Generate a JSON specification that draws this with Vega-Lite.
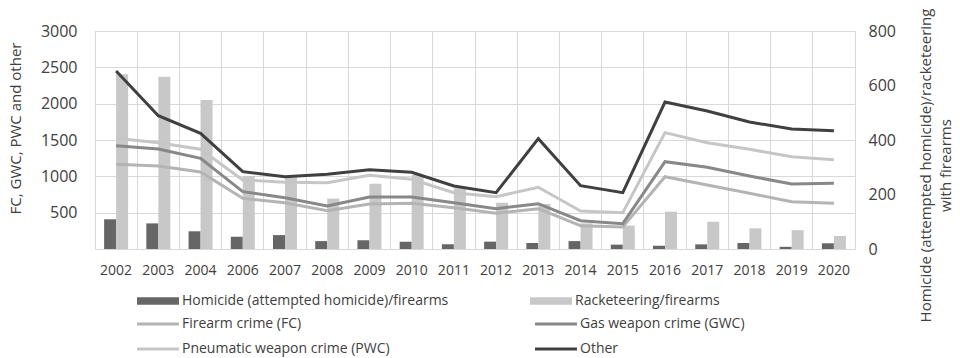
{
  "$schema": "https://vega.github.io/schema/vega-lite/v6.json",
  "width": 760,
  "height": 218,
  "autosize": {"type": "none"},
  "padding": {"left": 95, "top": 31, "right": 105, "bottom": 109},
  "background": "white",
  "config": {
    "view": {"stroke": "#d9d9d9", "strokeWidth": 1},
    "font": "Open Sans",
    "axis": {"labelFont": "Open Sans", "labelColor": "#404040", "titleFont": "Open Sans", "titleColor": "#404040", "titleFontWeight": "normal", "gridColor": "#d9d9d9", "domainColor": "#d9d9d9", "ticks": false},
    "legend": {"labelFont": "Open Sans", "labelColor": "#404040", "labelFontSize": 14, "labelLimit": 500, "padding": 0, "title": null}
  },
  "datasets": {
    "bars": [
      {"year": "2002", "series": "Homicide (attempted homicide)/firearms", "value": 109},
      {"year": "2003", "series": "Homicide (attempted homicide)/firearms", "value": 94},
      {"year": "2004", "series": "Homicide (attempted homicide)/firearms", "value": 65},
      {"year": "2006", "series": "Homicide (attempted homicide)/firearms", "value": 45},
      {"year": "2007", "series": "Homicide (attempted homicide)/firearms", "value": 51},
      {"year": "2008", "series": "Homicide (attempted homicide)/firearms", "value": 29},
      {"year": "2009", "series": "Homicide (attempted homicide)/firearms", "value": 32},
      {"year": "2010", "series": "Homicide (attempted homicide)/firearms", "value": 27},
      {"year": "2011", "series": "Homicide (attempted homicide)/firearms", "value": 17},
      {"year": "2012", "series": "Homicide (attempted homicide)/firearms", "value": 27},
      {"year": "2013", "series": "Homicide (attempted homicide)/firearms", "value": 22},
      {"year": "2014", "series": "Homicide (attempted homicide)/firearms", "value": 29},
      {"year": "2015", "series": "Homicide (attempted homicide)/firearms", "value": 16},
      {"year": "2016", "series": "Homicide (attempted homicide)/firearms", "value": 12},
      {"year": "2017", "series": "Homicide (attempted homicide)/firearms", "value": 17},
      {"year": "2018", "series": "Homicide (attempted homicide)/firearms", "value": 22},
      {"year": "2019", "series": "Homicide (attempted homicide)/firearms", "value": 8},
      {"year": "2020", "series": "Homicide (attempted homicide)/firearms", "value": 21},
      {"year": "2002", "series": "Racketeering/firearms", "value": 641},
      {"year": "2003", "series": "Racketeering/firearms", "value": 632},
      {"year": "2004", "series": "Racketeering/firearms", "value": 547},
      {"year": "2006", "series": "Racketeering/firearms", "value": 268},
      {"year": "2007", "series": "Racketeering/firearms", "value": 263},
      {"year": "2008", "series": "Racketeering/firearms", "value": 185},
      {"year": "2009", "series": "Racketeering/firearms", "value": 239},
      {"year": "2010", "series": "Racketeering/firearms", "value": 272},
      {"year": "2011", "series": "Racketeering/firearms", "value": 223},
      {"year": "2012", "series": "Racketeering/firearms", "value": 170},
      {"year": "2013", "series": "Racketeering/firearms", "value": 165},
      {"year": "2014", "series": "Racketeering/firearms", "value": 94},
      {"year": "2015", "series": "Racketeering/firearms", "value": 86},
      {"year": "2016", "series": "Racketeering/firearms", "value": 137},
      {"year": "2017", "series": "Racketeering/firearms", "value": 100},
      {"year": "2018", "series": "Racketeering/firearms", "value": 76},
      {"year": "2019", "series": "Racketeering/firearms", "value": 69},
      {"year": "2020", "series": "Racketeering/firearms", "value": 48}
    ],
    "lines": [
      {"year": "2002", "series": "Firearm crime (FC)", "value": 1165},
      {"year": "2003", "series": "Firearm crime (FC)", "value": 1142},
      {"year": "2004", "series": "Firearm crime (FC)", "value": 1060},
      {"year": "2006", "series": "Firearm crime (FC)", "value": 697},
      {"year": "2007", "series": "Firearm crime (FC)", "value": 637},
      {"year": "2008", "series": "Firearm crime (FC)", "value": 527},
      {"year": "2009", "series": "Firearm crime (FC)", "value": 619},
      {"year": "2010", "series": "Firearm crime (FC)", "value": 628},
      {"year": "2011", "series": "Firearm crime (FC)", "value": 569},
      {"year": "2012", "series": "Firearm crime (FC)", "value": 491},
      {"year": "2013", "series": "Firearm crime (FC)", "value": 555},
      {"year": "2014", "series": "Firearm crime (FC)", "value": 321},
      {"year": "2015", "series": "Firearm crime (FC)", "value": 303},
      {"year": "2016", "series": "Firearm crime (FC)", "value": 995},
      {"year": "2017", "series": "Firearm crime (FC)", "value": 881},
      {"year": "2018", "series": "Firearm crime (FC)", "value": 766},
      {"year": "2019", "series": "Firearm crime (FC)", "value": 651},
      {"year": "2020", "series": "Firearm crime (FC)", "value": 628},
      {"year": "2002", "series": "Gas weapon crime (GWC)", "value": 1422},
      {"year": "2003", "series": "Gas weapon crime (GWC)", "value": 1376},
      {"year": "2004", "series": "Gas weapon crime (GWC)", "value": 1248},
      {"year": "2006", "series": "Gas weapon crime (GWC)", "value": 789},
      {"year": "2007", "series": "Gas weapon crime (GWC)", "value": 706},
      {"year": "2008", "series": "Gas weapon crime (GWC)", "value": 592},
      {"year": "2009", "series": "Gas weapon crime (GWC)", "value": 716},
      {"year": "2010", "series": "Gas weapon crime (GWC)", "value": 716},
      {"year": "2011", "series": "Gas weapon crime (GWC)", "value": 637},
      {"year": "2012", "series": "Gas weapon crime (GWC)", "value": 555},
      {"year": "2013", "series": "Gas weapon crime (GWC)", "value": 623},
      {"year": "2014", "series": "Gas weapon crime (GWC)", "value": 390},
      {"year": "2015", "series": "Gas weapon crime (GWC)", "value": 348},
      {"year": "2016", "series": "Gas weapon crime (GWC)", "value": 1201},
      {"year": "2017", "series": "Gas weapon crime (GWC)", "value": 1124},
      {"year": "2018", "series": "Gas weapon crime (GWC)", "value": 1005},
      {"year": "2019", "series": "Gas weapon crime (GWC)", "value": 894},
      {"year": "2020", "series": "Gas weapon crime (GWC)", "value": 904},
      {"year": "2002", "series": "Pneumatic weapon crime (PWC)", "value": 1523},
      {"year": "2003", "series": "Pneumatic weapon crime (PWC)", "value": 1463},
      {"year": "2004", "series": "Pneumatic weapon crime (PWC)", "value": 1372},
      {"year": "2006", "series": "Pneumatic weapon crime (PWC)", "value": 950},
      {"year": "2007", "series": "Pneumatic weapon crime (PWC)", "value": 917},
      {"year": "2008", "series": "Pneumatic weapon crime (PWC)", "value": 913},
      {"year": "2009", "series": "Pneumatic weapon crime (PWC)", "value": 1014},
      {"year": "2010", "series": "Pneumatic weapon crime (PWC)", "value": 959},
      {"year": "2011", "series": "Pneumatic weapon crime (PWC)", "value": 775},
      {"year": "2012", "series": "Pneumatic weapon crime (PWC)", "value": 720},
      {"year": "2013", "series": "Pneumatic weapon crime (PWC)", "value": 849},
      {"year": "2014", "series": "Pneumatic weapon crime (PWC)", "value": 523},
      {"year": "2015", "series": "Pneumatic weapon crime (PWC)", "value": 500},
      {"year": "2016", "series": "Pneumatic weapon crime (PWC)", "value": 1601},
      {"year": "2017", "series": "Pneumatic weapon crime (PWC)", "value": 1463},
      {"year": "2018", "series": "Pneumatic weapon crime (PWC)", "value": 1372},
      {"year": "2019", "series": "Pneumatic weapon crime (PWC)", "value": 1270},
      {"year": "2020", "series": "Pneumatic weapon crime (PWC)", "value": 1229},
      {"year": "2002", "series": "Other", "value": 2450},
      {"year": "2003", "series": "Other", "value": 1834},
      {"year": "2004", "series": "Other", "value": 1592},
      {"year": "2006", "series": "Other", "value": 1064},
      {"year": "2007", "series": "Other", "value": 995},
      {"year": "2008", "series": "Other", "value": 1028},
      {"year": "2009", "series": "Other", "value": 1092},
      {"year": "2010", "series": "Other", "value": 1055},
      {"year": "2011", "series": "Other", "value": 867},
      {"year": "2012", "series": "Other", "value": 775},
      {"year": "2013", "series": "Other", "value": 1518},
      {"year": "2014", "series": "Other", "value": 871},
      {"year": "2015", "series": "Other", "value": 775},
      {"year": "2016", "series": "Other", "value": 2023},
      {"year": "2017", "series": "Other", "value": 1899},
      {"year": "2018", "series": "Other", "value": 1748},
      {"year": "2019", "series": "Other", "value": 1651},
      {"year": "2020", "series": "Other", "value": 1628}
    ]
  },
  "layer": [
    {
      "data": {"name": "bars"},
      "mark": {"type": "bar"},
      "encoding": {
        "x": {"field": "year", "type": "ordinal", "scale": {"type": "band", "paddingInner": 0, "paddingOuter": 0},
          "axis": {"title": null, "labelAngle": 0, "grid": true, "bandPosition": 0, "labelFontSize": 14, "labelPadding": 14, "domain": true}},
        "xOffset": {"field": "series", "type": "nominal", "sort": ["Homicide (attempted homicide)/firearms", "Racketeering/firearms"], "scale": {"paddingInner": 0, "paddingOuter": 0.76}},
        "y": {"field": "value", "type": "quantitative", "scale": {"domain": [0, 800]},
          "axis": {"orient": "right", "values": [0, 200, 400, 600, 800], "format": "d", "grid": false, "domain": false, "labelFontSize": 16, "labelPadding": 13,
            "title": ["Homicide (attempted homicide)/racketeering", "with firearms"], "titleAngle": 270, "titleFontSize": 15, "titleLineHeight": 20, "titleBaseline": "middle", "titleX": 70, "titleY": 134}},
        "color": {"field": "series", "type": "nominal",
          "scale": {"domain": ["Homicide (attempted homicide)/firearms", "Racketeering/firearms"], "range": ["#666666", "#c8c8c8"]},
          "legend": {"orient": "none", "legendX": 56, "legendY": 263, "columns": 2, "columnPadding": 81, "symbolType": "M-4,-0.7H4V0.7H-4Z", "symbolSize": 110, "symbolStrokeWidth": 0, "symbolOpacity": 1, "labelOffset": 17}}
      }
    },
    {
      "data": {"name": "lines"},
      "mark": {"type": "line", "strokeWidth": 3},
      "encoding": {
        "x": {"field": "year", "type": "ordinal", "scale": {"type": "band", "paddingInner": 0, "paddingOuter": 0}},
        "y": {"field": "value", "type": "quantitative", "scale": {"domain": [0, 3000]},
          "axis": {"orient": "left", "values": [500, 1000, 1500, 2000, 2500, 3000], "format": "d", "grid": true, "domain": false, "labelFontSize": 16, "labelPadding": 18,
            "title": "FC, GWC, PWC and other", "titleAngle": 270, "titleFontSize": 15, "titleBaseline": "middle", "titleX": -80, "titleY": 97}},
        "stroke": {"field": "series", "type": "nominal",
          "scale": {"domain": ["Firearm crime (FC)", "Pneumatic weapon crime (PWC)", "Gas weapon crime (GWC)", "Other"], "range": ["#b4b4b4", "#c6c6c6", "#888888", "#404040"]},
          "legend": {"orient": "none", "legendX": 56, "legendY": 286, "columns": 2, "columnPadding": 139, "rowPadding": 11, "symbolType": "M-4,0H4", "symbolSize": 110, "symbolStrokeWidth": 3, "labelOffset": 17}}
      }
    }
  ],
  "resolve": {"scale": {"y": "independent"}}
}
